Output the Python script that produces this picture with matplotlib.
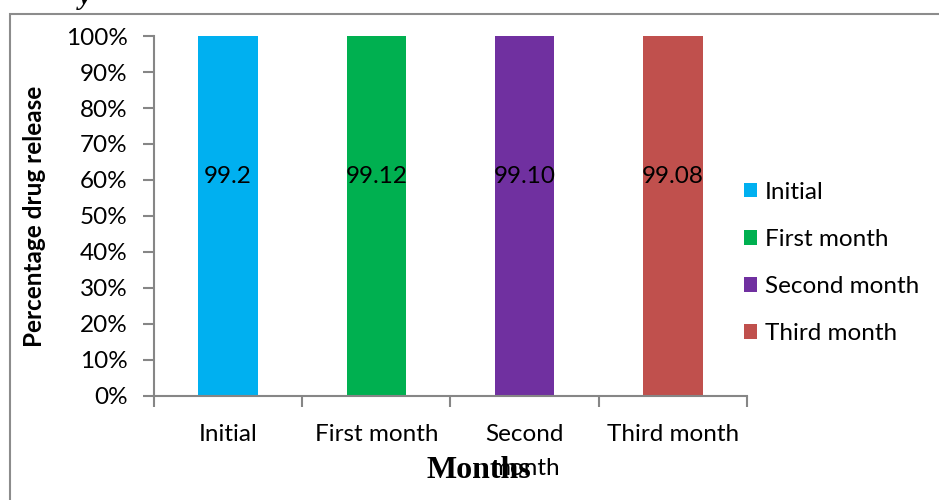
import numpy as np
import matplotlib
matplotlib.use("Agg")
import matplotlib.pyplot as plt
from matplotlib.patches import Rectangle
from matplotlib.ticker import PercentFormatter

# drug release after storage, one series per month
months = ["Initial", "First month", "Second\nmonth", "Third month"]
series = ["Initial", "First month", "Second month", "Third month"]
release = [99.2, 99.12, 99.10, 99.08]
labels = ["99.2", "99.12", "99.10", "99.08"]
colors = ["#00B0F0", "#00B050", "#7030A0", "#C0504D"]

plt.rcParams['font.family'] = ['Lato', 'DejaVu Sans']

fig = plt.figure(figsize=(9.39, 5.0), dpi=100)
ax = fig.add_axes([0.164, 0.208, 0.6315, 0.72])

# 100% stacked: each month is its own stack, so share of the stack total
vals = np.array(release)
share = vals / vals
x = np.arange(len(months))
bars = []
for i in range(len(months)):
    b = ax.bar(x[i], share[i], width=0.4, color=colors[i], label=series[i])
    bars.append(b)
    ax.text(x[i], 0.61, labels[i], ha='center', va='center', fontsize=17.5, color='black')

ax.set_xlim(-0.5, len(months) - 0.5)
ax.set_ylim(0, 1)
ax.set_yticks(np.linspace(0, 1, 11))
ax.yaxis.set_major_formatter(PercentFormatter(1.0, decimals=0))
ax.set_xticks(x)
ax.set_xticklabels(months, fontsize=17.5, linespacing=1.75)
ax.set_xticks(np.arange(-0.5, len(months)), minor=True)
ax.tick_params(axis='x', which='major', length=0, pad=20)
ax.tick_params(axis='x', which='minor', length=8, width=1.5, color='#868686', direction='out')
ax.tick_params(axis='y', length=8, width=1.5, color='#868686', labelsize=17.5, pad=11)

for side in ['top', 'right']:
    ax.spines[side].set_visible(False)
for side in ['left', 'bottom']:
    ax.spines[side].set_color('#868686')
    ax.spines[side].set_linewidth(1.5)

ax.set_ylabel("Percentage drug release", fontsize=17.5, fontweight='bold', labelpad=14)
fig.text(479 / 939, 1 - 471 / 500, "Months", fontsize=23, fontweight='bold',
         family='Liberation Serif', ha='center', va='center')

fig.legend(handles=[b[0] for b in bars], labels=series, loc='center left',
           bbox_to_anchor=(722 / 939, 1 - 263 / 500), frameon=False, fontsize=17.5,
           handlelength=0.55, handleheight=0.55, handletextpad=0.3, labelspacing=1.08)

# chart border and the tail of the caption above it
fig.patches.append(Rectangle((10 / 939, -0.01), 1.0, 1 - 14 / 500 + 0.01,
                             transform=fig.transFigure, fill=False,
                             edgecolor='#8c8c8c', linewidth=1.5))
fig.text(85 / 939, 1.005, "y", fontsize=20, fontweight='bold', style='italic',
         family='Liberation Serif', ha='center', va='center')

plt.savefig("out.png", dpi=100)
